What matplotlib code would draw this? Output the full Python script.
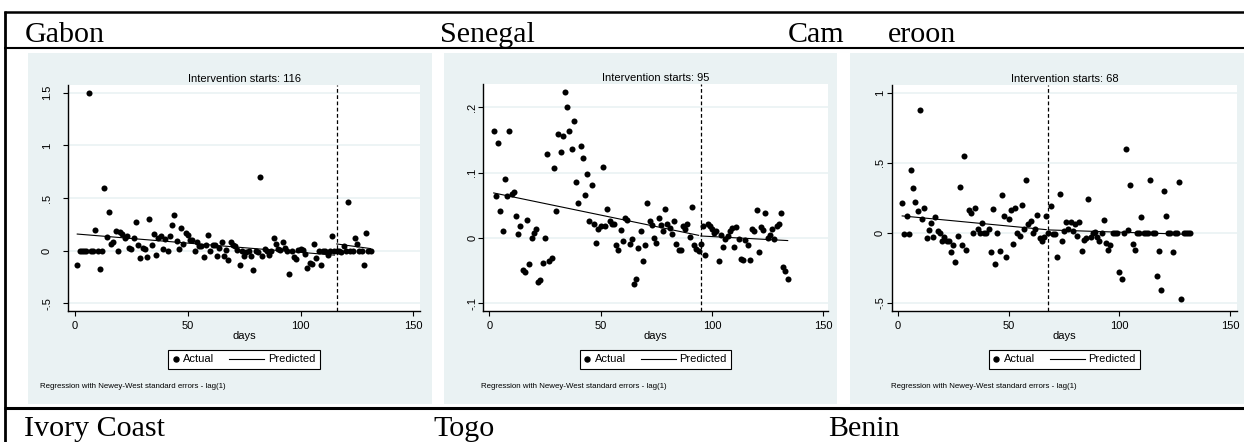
import numpy as np
import matplotlib
matplotlib.use("Agg")
import matplotlib.pyplot as plt
from matplotlib.lines import Line2D
from matplotlib.patches import Rectangle
from matplotlib.legend_handler import HandlerBase

W, H = 1244, 442
BG = "#eaf2f3"

# ---- data ----
gabon_vals = [
    -0.14, 0, 0, 0, 0, 1.5, 0, 0, 0.2, 0,
    -0.17, 0, 0.6, 0.13, 0.37, 0.06, 0.08, 0.19, 0, 0.18,
    0.16, 0.12, 0.14, 0.03, 0.02, 0.12, 0.27, 0.05, -0.07, 0.03,
    0.02, -0.06, 0.30, 0.05, 0.16, -0.04, 0.12, 0.14, 0.02, 0.11,
    0, 0.14, 0.24, 0.34, 0.09, 0.02, 0.22, 0.06, 0.17, 0.15,
    0.10, 0.10, 0, 0.08, 0.04, 0.04, -0.06, 0.05, 0.15, 0,
    0.05, 0.05, -0.05, 0.03, 0.08, -0.05, 0.01, -0.09, 0.08, 0.05,
    0.04, 0.01, -0.14, 0, -0.05, -0.01, 0, -0.05, -0.18, 0,
    -0.01, 0.70, -0.05, 0.02, 0, -0.04, 0, 0.12, 0.06, 0.02,
    0.01, 0.08, 0.03, 0, -0.22, 0, -0.06, -0.08, 0.01, 0.02,
    0.01, -0.03, -0.16, -0.12, -0.13, 0.06, -0.07, 0, -0.14, 0,
    0, -0.04, 0, 0.14, 0, 0, 0, -0.01, 0.04, 0,
    0.46, 0, 0, 0.12, 0.06, 0, 0, -0.14, 0.17, 0,
    0,
]
gabon_first_day = 1
gabon_pre = ([1, 115], [0.158, -0.042])
gabon_post = ([116, 131], [0.064, 0.02])

senegal_vals = [
    0.164, 0.064, 0.145, 0.042, 0.010, 0.090, 0.064, 0.164, 0.068, 0.070,
    0.033, 0.006, 0.019, -0.049, -0.052, 0.028, -0.040, 0.000, 0.008, 0.013,
    -0.068, -0.065, -0.039, 0.000, 0.129, -0.035, -0.030, 0.107, 0.042, 0.160,
    0.132, 0.157, 0.223, 0.200, 0.164, 0.136, 0.180, 0.085, 0.053, 0.141,
    0.122, 0.066, 0.098, 0.026, 0.081, 0.022, -0.007, 0.014, 0.019, 0.109,
    0.019, 0.044, 0.026, 0.022, 0.022, -0.011, -0.018, 0.012, -0.005, 0.030,
    0.028, -0.010, -0.002, -0.071, -0.063, -0.015, 0.011, -0.035, -0.011, 0.053,
    0.026, 0.020, 0.000, -0.007, 0.030, 0.020, 0.010, 0.044, 0.022, 0.016,
    0.006, 0.026, -0.010, -0.018, -0.018, 0.018, 0.013, 0.021, 0.002, 0.047,
    -0.011, -0.017, -0.020, -0.010, 0.019, -0.026, 0.021, 0.018, 0.013, 0.008,
    0.011, -0.035, 0.004, -0.014, -0.002, 0.003, 0.010, 0.015, -0.014, 0.017,
    -0.002, -0.033, -0.034, -0.003, -0.011, -0.034, 0.014, 0.010, 0.043, -0.021,
    0.017, 0.012, 0.039, 0.000, 0.004, 0.013, -0.002, 0.019, 0.021, 0.038,
    -0.044, -0.050, -0.063,
]
senegal_first_day = 2
senegal_pre = ([2, 94], [0.069, 0.004])
senegal_post = ([95, 134], [0.003, -0.004])

cameroon_vals = [
    0.21, -0.01, 0.12, -0.01, 0.45, 0.32, 0.22, 0.155, 0.876, 0.096,
    0.18, -0.035, 0.02, 0.07, -0.03, 0.11, 0.01, 0.0, -0.06, -0.03,
    -0.06, -0.06, -0.135, -0.09, -0.21, -0.02, 0.33, -0.09, 0.55, -0.125,
    0.16, 0.14, 0.0, 0.18, 0.03, 0.0, 0.07, 0.0, 0.0, 0.03,
    -0.135, 0.17, -0.22, -0.005, -0.13, 0.27, 0.12, -0.17, 0.10, 0.165,
    -0.08, 0.18, 0.0, -0.02, 0.20, 0.03, 0.38, 0.06, 0.085, 0.0,
    0.03, 0.13, -0.04, -0.06, -0.03, 0.12, 0.0, 0.19, -0.01, -0.01,
    -0.175, 0.28, -0.06, 0.01, 0.08, 0.03, 0.08, 0.01, 0.06, -0.02,
    0.08, -0.13, -0.05, -0.04, 0.24, -0.03, 0.0, 0.005, -0.03, -0.06,
    -0.005, 0.09, -0.07, -0.125, -0.09, 0.0, 0.0, 0.0, -0.28, -0.33,
    0.0, 0.6, 0.02, 0.34, -0.08, -0.125, 0.0, 0.0, 0.11, 0.0,
    0.0, 0.0, 0.38, 0.0, 0.0, -0.31, -0.13, -0.41, 0.30, 0.12,
    0.0, 0.0, -0.14, 0.0, 0.0, 0.36, -0.475, 0.0, 0.0, 0.0,
    0.0,
]
cameroon_first_day = 2
cameroon_pre = ([2, 67], [0.12, 0.022])
cameroon_post = ([68, 132], [0.02, -0.012])

x_ticks = [0, 50, 100, 150]
x_ticklabels = ["0", "50", "100", "150"]
header_top = ["Gabon", "Senegal", "Cam", "eroon"]
header_bottom = ["Ivory Coast", "Togo", "Benin"]
note = "Regression with Newey-West standard errors - lag(1)"

plt.rcParams["font.family"] = ["Liberation Sans", "DejaVu Sans"]


def fx(px):
    return px / W


def fy(py):
    return 1 - py / H


class DotHandler(HandlerBase):
    def create_artists(self, legend, orig_handle, xdescent, ydescent,
                       width, height, fontsize, trans):
        m = Line2D([width / 2 - xdescent], [height / 2 - ydescent], marker="o",
                   ms=3.6, color="black", ls="none", transform=trans)
        return [m]


class LongLineHandler(HandlerBase):
    def create_artists(self, legend, orig_handle, xdescent, ydescent,
                       width, height, fontsize, trans):
        y = height / 2 - ydescent
        ln = Line2D([-xdescent - 2.55 * fontsize, width - xdescent], [y, y],
                    color="black", lw=0.8, transform=trans)
        return [ln]


fig = plt.figure(figsize=(W / 100, H / 100), dpi=100)

# table rules
def rule(xs, ys, lw):
    fig.add_artist(Line2D([fx(x) for x in xs], [fy(y) for y in ys],
                          transform=fig.transFigure, color="black", lw=lw,
                          solid_capstyle="butt"))

rule([4, W], [12, 12], 1.8)
rule([4, W], [47.5, 47.5], 1.5)
rule([4, W], [407.5, 407.5], 2.2)
rule([5, 5], [11, H], 2.0)

serif = dict(family="Liberation Serif", fontsize=21.6, va="baseline", ha="left")
fig.text(fx(25), fy(41.5), header_top[0], **serif)
fig.text(fx(440), fy(41.5), header_top[1], **serif)
fig.text(fx(788), fy(41.5), header_top[2], **serif)
fig.text(fx(888), fy(41.5), header_top[3], **serif)
fig.text(fx(24), fy(436.5), header_bottom[0], **serif)
fig.text(fx(433), fy(436.5), header_bottom[1], **serif)
fig.text(fx(828), fy(436.5), header_bottom[2], **serif)

panels = [
    dict(vals=gabon_vals, first=gabon_first_day, pre=gabon_pre, post=gabon_post, start=116,
         bg=(28, 53, 432, 404), plot=(68, 85, 420, 311),
         xlim=(-3.1, 152.9), ylim=(-0.573, 1.574),
         yticks=[-0.5, 0, 0.5, 1, 1.5], ylabels=["-.5", "0", ".5", "1", "1.5"],
         ypad=8, note_x=40),
    dict(vals=senegal_vals, first=senegal_first_day, pre=senegal_pre, post=senegal_post, start=95,
         bg=(444, 53, 837, 404), plot=(483, 84, 828, 311),
         xlim=(-2.8, 152.1), ylim=(-0.112, 0.236),
         yticks=[-0.1, 0, 0.1, 0.2], ylabels=["-.1", "0", ".1", ".2"],
         ypad=0.5, note_x=481),
    dict(vals=cameroon_vals, first=cameroon_first_day, pre=cameroon_pre, post=cameroon_post, start=68,
         bg=(850, 53, W, 404), plot=(892, 85, 1237, 311),
         xlim=(-2.6, 153.1), ylim=(-0.559, 1.055),
         yticks=[-0.5, 0, 0.5, 1], ylabels=["-.5", "0", ".5", "1"],
         ypad=1.5, note_x=891),
]

for p in panels:
    x0, y0, x1, y1 = p["bg"]
    fig.add_artist(Rectangle((fx(x0), fy(y1)), (x1 - x0) / W, (y1 - y0) / H,
                             transform=fig.transFigure, facecolor=BG,
                             edgecolor="none", zorder=-5))
    l, t, r, b = p["plot"]
    ax = fig.add_axes([fx(l), fy(b), (r - l) / W, (b - t) / H])
    ax.set_facecolor("white")

    days = np.arange(p["first"], p["first"] + len(p["vals"]))
    ax.scatter(days, p["vals"], s=19, color="black", linewidths=0, zorder=3)
    ax.plot(p["pre"][0], p["pre"][1], color="black", lw=0.8, zorder=4)
    ax.plot(p["post"][0], p["post"][1], color="black", lw=0.8, zorder=4)
    ax.axvline(p["start"], color="black", lw=0.9, ls=(0, (3, 2)), zorder=2)

    ax.set_xlim(*p["xlim"])
    ax.set_ylim(*p["ylim"])
    ax.set_xticks(x_ticks)
    ax.set_xticklabels(x_ticklabels)
    ax.set_yticks(p["yticks"])
    ax.set_yticklabels(p["ylabels"], rotation=90, va="center")
    ax.grid(axis="y", color=BG, lw=1.2)
    ax.set_axisbelow(True)
    for s in ["top", "right"]:
        ax.spines[s].set_visible(False)
    for s in ["left", "bottom"]:
        ax.spines[s].set_linewidth(1.0)
    ax.tick_params(direction="out", length=3.5, width=0.8, labelsize=8, pad=3.4)
    ax.tick_params(axis="y", pad=p["ypad"])
    ax.set_title(f"Intervention starts: {p['start']}", fontsize=8, pad=2)
    ax.set_xlabel("days", fontsize=8, labelpad=0.5)

    h1 = Line2D([], [], marker="o", ls="none", color="black")
    h2 = Line2D([], [], color="black")
    leg = ax.legend([h1, h2], ["Actual", "Predicted"], ncol=2, loc="upper center",
                    bbox_to_anchor=(fx((l + r) / 2), fy(350)),
                    bbox_transform=fig.transFigure, borderaxespad=0,
                    fancybox=False, edgecolor="black", fontsize=8,
                    handlelength=0.6, handletextpad=0.35, columnspacing=3.9,
                    borderpad=0.4, framealpha=1,
                    handler_map={h1: DotHandler(), h2: LongLineHandler()})
    leg.get_frame().set_linewidth(0.8)
    leg.get_frame().set_facecolor("white")

    fig.text(fx(p["note_x"]), fy(386.7), note, fontsize=5.7, va="center", ha="left")

fig.savefig("out.png", dpi=100)
